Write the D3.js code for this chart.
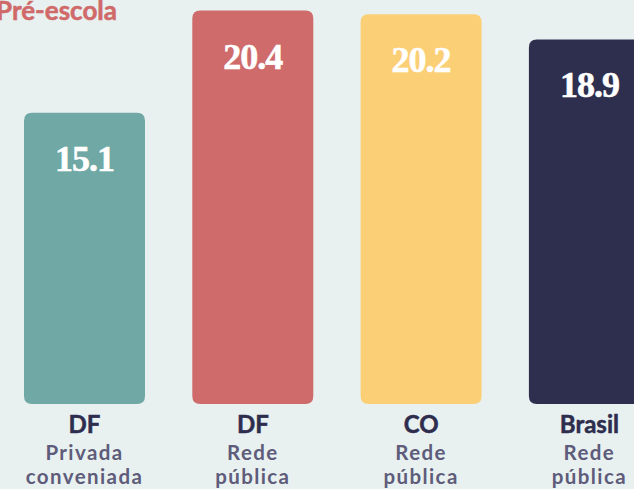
<!DOCTYPE html>
<html>
<head>
<meta charset="utf-8">
<script src="https://cdn.jsdelivr.net/npm/d3@7"></script>
<style>
  html, body { margin: 0; padding: 0; background: #e8f1f0; overflow: hidden; }
  svg { display: block; }
</style>
</head>
<body>
<svg id="chart" width="634" height="489"></svg>
<script>
// Pré-escola: values per network
const regions   = ["DF", "DF", "CO", "Brasil"];
const networks1 = ["Privada", "Rede", "Rede", "Rede"];
const networks2 = ["conveniada", "pública", "pública", "pública"];
const values    = [15.1, 20.4, 20.2, 18.9];
const colors    = ["#6fa8a4", "#cf6b6b", "#fbcf76", "#2e2e4f"];
const title     = "Pré-escola";

const svg = d3.select("#chart");
const W = 634, H = 489;

svg.append("rect").attr("width", W).attr("height", H).attr("fill", "#e8f1f0");

const idx = values.map((_, i) => i);

// band positions: fixed step with the last bar running past the right edge
const step = 168.3, bw = 121, x0 = 24;
const xb = d3.scaleLinear().domain([0, 1]).range([x0, x0 + step]);

const y = d3.scaleLinear().domain([0, 20.4]).range([404, 10.5]);

const r = 8;
function roundedBar(xl, yt, w, yb, rad) {
  return `M${xl},${yb - rad}` +
    `L${xl},${yt + rad}Q${xl},${yt} ${xl + rad},${yt}` +
    `L${xl + w - rad},${yt}Q${xl + w},${yt} ${xl + w},${yt + rad}` +
    `L${xl + w},${yb - rad}Q${xl + w},${yb} ${xl + w - rad},${yb}` +
    `L${xl + rad},${yb}Q${xl},${yb} ${xl},${yb - rad}Z`;
}

const g = svg.append("g");

g.selectAll("path.bar")
  .data(idx)
  .join("path")
  .attr("class", "bar")
  .attr("fill", i => colors[i])
  .attr("d", i => roundedBar(xb(i), y(values[i]), bw, y(0), r));

g.selectAll("text.val")
  .data(idx)
  .join("text")
  .attr("class", "val")
  .attr("x", i => xb(i) + bw / 2)
  .attr("y", i => y(values[i]) + 58)
  .attr("text-anchor", "middle")
  .attr("fill", "#ffffff")
  .attr("font-family", "'Liberation Serif', 'DejaVu Serif', serif")
  .attr("font-weight", "bold")
  .attr("font-size", 36)
  .attr("letter-spacing", -1)
  .attr("stroke", "#ffffff")
  .attr("stroke-width", 0.6)
  .text(i => values[i].toFixed(1));

g.selectAll("text.reg")
  .data(idx)
  .join("text")
  .attr("class", "reg")
  .attr("x", i => xb(i) + bw / 2)
  .attr("y", 433)
  .attr("text-anchor", "middle")
  .attr("fill", "#2e2d4e")
  .attr("stroke", "#2e2d4e")
  .attr("stroke-width", 0.5)
  .attr("font-family", "Lato, sans-serif")
  .attr("font-weight", "bold")
  .attr("font-size", 24)
  .text(i => regions[i]);

g.selectAll("text.n1")
  .data(idx)
  .join("text")
  .attr("class", "n1")
  .attr("x", i => xb(i) + bw / 2)
  .attr("y", 460)
  .attr("text-anchor", "middle")
  .attr("fill", "#5e5c7a")
  .attr("font-family", "Lato, sans-serif")
  .attr("font-weight", "bold")
  .attr("font-size", 20.5)
  .attr("letter-spacing", 1.4)
  .text(i => networks1[i]);

g.selectAll("text.n2")
  .data(idx)
  .join("text")
  .attr("class", "n2")
  .attr("x", i => xb(i) + bw / 2)
  .attr("y", 484)
  .attr("text-anchor", "middle")
  .attr("fill", "#5e5c7a")
  .attr("font-family", "Lato, sans-serif")
  .attr("font-weight", "bold")
  .attr("font-size", 20.5)
  .attr("letter-spacing", 1.4)
  .text(i => networks2[i]);

svg.append("text")
  .attr("x", 117)
  .attr("y", 19.5)
  .attr("text-anchor", "end")
  .attr("fill", "#d06a6a")
  .attr("stroke", "#d06a6a")
  .attr("stroke-width", 0.5)
  .attr("font-family", "Lato, sans-serif")
  .attr("font-weight", "bold")
  .attr("font-size", 26)
  .text(title);
</script>
</body>
</html>
